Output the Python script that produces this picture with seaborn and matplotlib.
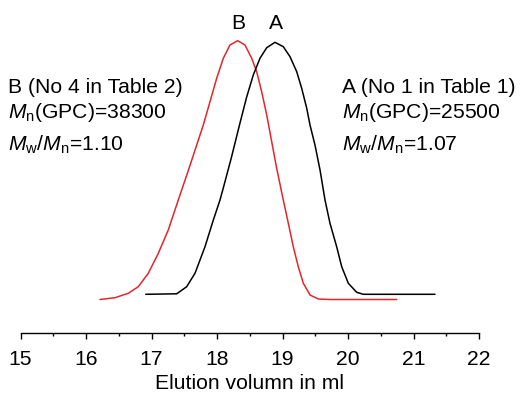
import matplotlib
matplotlib.use("Agg")
import matplotlib.pyplot as plt
import seaborn as sns
import pandas as pd

# Curve B (red) : elution volume (ml) vs. detector response (arb. units)
b_volume = [16.214, 16.443, 16.646, 16.798, 16.951, 17.104, 17.256, 17.409,
            17.557, 17.791, 17.893, 17.995, 18.096, 18.198, 18.316, 18.427,
            18.530, 18.606, 18.682, 18.759, 18.911, 19.012, 19.089, 19.165,
            19.241, 19.318, 19.420, 19.547, 19.725, 20.744]
b_signal = [0.5, 2.3, 6.7, 13.3, 26.7, 46.7, 70, 100,
            128.5, 175, 198.3, 221.7, 241.7, 255, 259.3, 255,
            241.7, 228.3, 208.3, 185, 131.7, 100, 76.7, 53.3,
            33.3, 16.7, 5, 1, 0.5, 0.5]

# Curve A (black)
a_volume = [16.911, 17.385, 17.537, 17.664, 17.817, 17.944, 18.046, 18.096,
            18.218, 18.351, 18.453, 18.554, 18.656, 18.759, 18.885, 19.012,
            19.115, 19.217, 19.293, 19.370, 19.420, 19.496, 19.573, 19.649,
            19.725, 19.827, 19.904, 20.005, 20.133, 20.234, 21.328]
a_signal = [5.7, 6.2, 13.3, 26.7, 53.3, 80, 100, 112,
            142, 177, 203, 225, 241.7, 252.3, 257.7, 253.3,
            243.3, 228.3, 211.7, 191.7, 175, 155, 130, 100,
            76.7, 53.3, 33.3, 16.7, 7.7, 5.7, 5.7]

x_ticks = [15, 16, 17, 18, 19, 20, 21, 22]
x_label = "Elution volumn in ml"
b_info = ["B (No 4 in Table 2)", r"$\it{M}_\mathrm{n}$(GPC)=38300",
          r"$\it{M}_\mathrm{w}/\it{M}_\mathrm{n}$=1.10"]
a_info = ["A (No 1 in Table 1)", r"$\it{M}_\mathrm{n}$(GPC)=25500",
          r"$\it{M}_\mathrm{w}/\it{M}_\mathrm{n}$=1.07"]

sns.set_style("ticks")
plt.rcParams['font.family'] = ['Liberation Sans', 'DejaVu Sans']
plt.rcParams['text.color'] = 'black'
plt.rcParams['axes.labelcolor'] = 'black'
plt.rcParams['xtick.color'] = 'black'
plt.rcParams['mathtext.fontset'] = 'custom'
plt.rcParams['mathtext.rm'] = 'Liberation Sans'
plt.rcParams['mathtext.it'] = 'Liberation Sans:italic'
plt.rcParams['mathtext.bf'] = 'Liberation Sans:bold'

FS = 15.2

fig = plt.figure(figsize=(5.2, 3.96), dpi=100)
ax = fig.add_axes([20.5 / 520, 63 / 396, 458.5 / 520, 303 / 396])

df_b = pd.DataFrame({"vol": b_volume, "sig": b_signal})
df_a = pd.DataFrame({"vol": a_volume, "sig": a_signal})
sns.lineplot(data=df_b, x="vol", y="sig", ax=ax, color="#e3262e", lw=1.1,
             estimator=None)
sns.lineplot(data=df_a, x="vol", y="sig", ax=ax, color="black", lw=1.1,
             estimator=None)

ax.set_xlim(15, 22)
ax.set_ylim(-33, 270)
ax.set_xticks(x_ticks)
ax.set_xticks([v + 0.5 for v in x_ticks[:-1]], minor=True)
ax.set_xticklabels([str(t) for t in x_ticks], fontsize=FS)
ax.tick_params(axis='x', which='major', direction='out', length=4.5,
               width=1, pad=8, colors='black')
ax.tick_params(axis='x', which='minor', direction='out', length=2.5,
               width=1, colors='black')
ax.set_yticks([])
ax.set_ylabel("")
ax.set_xlabel(x_label, fontsize=FS, labelpad=3, color='black')
for s in ["left", "right", "top"]:
    ax.spines[s].set_visible(False)
ax.spines["bottom"].set_color("black")
ax.spines["bottom"].set_linewidth(1)

# peak labels
ax.text(18.32, 271, "B", fontsize=FS, ha="center", va="baseline")
ax.text(18.90, 271, "A", fontsize=FS, ha="center", va="baseline")

# info blocks (positions in pixel-like data units)
def px2x(px):
    return 15 + (px - 20.5) / 65.5

def py2y(py):
    return 300 - py

for info, xpx in [(b_info, 8), (a_info, 342)]:
    for txt, ypx in zip(info, [93, 118, 151]):
        ax.text(px2x(xpx), py2y(ypx), txt, fontsize=FS, ha="left",
                va="baseline")

fig.savefig("out.png", dpi=100)
